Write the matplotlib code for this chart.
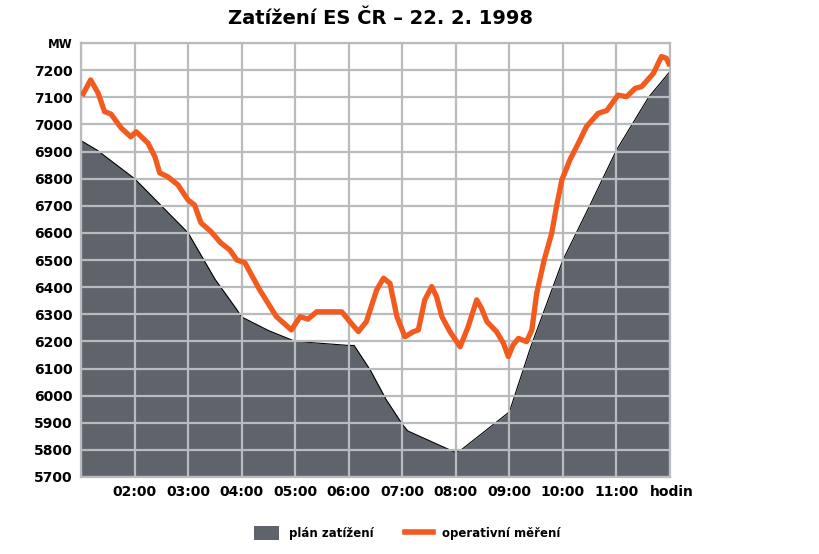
import numpy as np
import matplotlib
matplotlib.use('Agg')
import matplotlib.pyplot as plt
from matplotlib.patches import Patch
from matplotlib.lines import Line2D

# plan of load (grey area), hour -> MW
planHours = [1.0, 1.3, 2.0, 2.5, 3.0, 3.5, 3.9, 4.0, 4.5, 5.0, 6.0, 6.1, 6.4,
             6.7, 7.0, 7.1, 8.0, 8.1, 9.0, 9.4, 10.0, 10.5, 11.0, 11.6, 12.0]
planMW = [6940, 6905, 6800, 6700, 6600, 6430, 6320, 6290, 6240, 6200, 6185, 6185,
          6095, 5985, 5895, 5870, 5790, 5800, 5940, 6180, 6500, 6700, 6905, 7100, 7195]

# operative measurement (orange line)
measHours = [1.02, 1.18, 1.32, 1.44, 1.56, 1.75, 1.93, 2.03, 2.25, 2.38, 2.47, 2.62,
             2.81, 3.0, 3.12, 3.24, 3.43, 3.61, 3.78, 3.91, 4.06, 4.34, 4.65, 4.93,
             5.09, 5.24, 5.40, 5.87, 6.02, 6.18, 6.33, 6.52, 6.65, 6.77, 6.9, 7.05,
             7.21, 7.30, 7.42, 7.55, 7.64, 7.74, 7.89, 8.08, 8.23, 8.39, 8.48, 8.58,
             8.76, 8.89, 8.98, 9.07, 9.17, 9.32, 9.42, 9.51, 9.65, 9.79, 9.88, 9.98,
             10.13, 10.32, 10.44, 10.66, 10.82, 11.03, 11.19, 11.35, 11.47, 11.69,
             11.84, 11.93, 12.0]
measMW = [7105, 7164, 7115, 7047, 7038, 6987, 6954, 6973, 6931, 6881, 6821, 6807,
          6777, 6721, 6703, 6637, 6604, 6563, 6537, 6500, 6490, 6389, 6291, 6242,
          6291, 6282, 6309, 6309, 6273, 6236, 6273, 6389, 6433, 6414, 6291, 6217,
          6236, 6242, 6353, 6402, 6365, 6291, 6236, 6180, 6254, 6353, 6322, 6273,
          6236, 6193, 6144, 6187, 6211, 6199, 6242, 6377, 6500, 6598, 6697, 6795,
          6869, 6943, 6992, 7041, 7051, 7108, 7102, 7133, 7139, 7188, 7250, 7244,
          7215]

xTicks = [2, 3, 4, 5, 6, 7, 8, 9, 10, 11]
xLabels = ['02:00', '03:00', '04:00', '05:00', '06:00', '07:00', '08:00',
           '09:00', '10:00', '11:00']
yTicks = list(range(5700, 7300, 100))

greyFill = '#5f636b'
orange = '#f25a1e'
gridCol = '#b9bcbf'

fig = plt.figure(figsize=(8.19, 5.54), dpi=100)
ax = fig.add_axes([81/819, 1-477/554, (670-81)/819, (477-43)/554])

ax.fill_between(planHours, 5700, planMW, color=greyFill, lw=0, zorder=1)
ax.plot(planHours, planMW, color='black', lw=0.8, zorder=1.5)
ax.plot(measHours, measMW, color=orange, lw=3.8, solid_joinstyle='round',
        solid_capstyle='butt', zorder=3)

ax.set_xlim(1, 12)
ax.set_ylim(5700, 7300)
ax.set_xticks(range(1, 13))
ax.set_xticklabels([''] + xLabels + [''])
ax.set_yticks(range(5700, 7400, 100))
ax.set_yticklabels([str(v) for v in yTicks] + ['MW'])
ax.tick_params(length=0, labelsize=10, pad=6)
for t in ax.get_xticklabels() + ax.get_yticklabels():
    t.set_fontweight('bold')
ax.get_yticklabels()[-1].set_fontsize(8.5)
ax.set_axisbelow(False)
ax.grid(True, color=gridCol, lw=1.6)
for s in ax.spines.values():
    s.set_color(gridCol)
    s.set_linewidth(1.6)
    s.set_zorder(2.5)

fig.text(672/819, 1-492/554, 'hodin', ha='center', va='center',
         fontsize=10, fontweight='bold')

fig.text(381/819, 1-18/554, 'Zatížení ES ČR – 22. 2. 1998', ha='center',
         va='center', fontsize=14, fontweight='heavy')

# legend, one entry each so the spacing matches
legY = 1 - 533/554
leg1 = fig.legend([Patch(facecolor=greyFill, edgecolor='none')], ['plán zatížení'],
                  loc='center left', bbox_to_anchor=(254/819, legY), frameon=False,
                  prop={'size': 8.5, 'weight': 'bold'}, handlelength=2.1,
                  handleheight=1.5, handletextpad=0.9, borderpad=0, borderaxespad=0)
fig.legend([Line2D([0], [0], color=orange, lw=4)], ['operativní měření'],
           loc='center left', bbox_to_anchor=(405/819, legY), frameon=False,
           prop={'size': 8.5, 'weight': 'bold'}, handlelength=2.4,
           handletextpad=0.7, borderpad=0, borderaxespad=0)

fig.savefig('out.png', dpi=100)
